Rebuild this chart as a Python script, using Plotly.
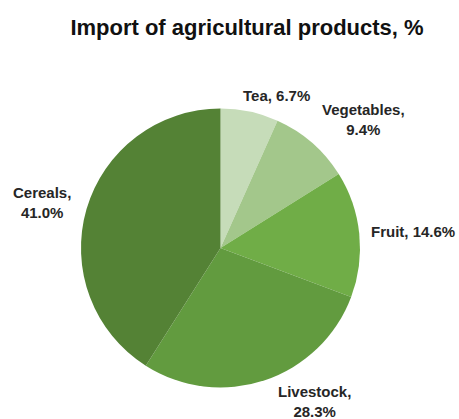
import plotly.graph_objects as go

categories = ["Tea", "Vegetables", "Fruit", "Livestock", "Cereals"]
shares = [6.7, 9.4, 14.6, 28.3, 41.0]
# labels that Excel wrapped onto two lines
wrapped = {"Vegetables", "Livestock", "Cereals"}

COLORS = ["#c6dcb9", "#a3c78b", "#70ad47", "#629b3f", "#548235"]
W, H = 459, 419

# label centres in pixels (Excel "best fit" placement)
label_pos = {
    "Tea": (276, 96),
    "Vegetables": (363, 120),
    "Fruit": (413, 231),
    "Livestock": (314, 401),
    "Cereals": (42, 202),
}

fig = go.Figure(go.Pie(
    labels=categories,
    values=shares,
    textinfo="none",
    marker=dict(colors=COLORS, line=dict(width=0)),
    sort=False,
    direction="clockwise",
    rotation=0,
    domain=dict(x=[81 / W, 360 / W], y=[1 - 387.5 / H, 1 - 108.5 / H]),
    showlegend=False,
    hoverinfo="label+percent",
))

annotations = []
for cat, val in zip(categories, shares):
    sep = ",<br>" if cat in wrapped else ", "
    px_x, px_y = label_pos[cat]
    annotations.append(dict(
        text=f"<b>{cat}{sep}{val:.1f}%</b>",
        x=px_x / W, y=1 - px_y / H,
        xref="paper", yref="paper",
        xanchor="center", yanchor="middle",
        showarrow=False,
        align="center",
        font=dict(family="Arial, Liberation Sans", size=15, color="#262626"),
    ))

fig.update_layout(
    width=W,
    height=H,
    margin=dict(l=0, r=0, t=0, b=0),
    paper_bgcolor="white",
    annotations=annotations,
    title=dict(
        text="<b>Import of agricultural products, %</b>",
        x=247 / W, xanchor="center",
        y=1 - 27 / H, yanchor="middle",
        font=dict(family="Arial, Liberation Sans", size=22, color="#111111"),
    ),
)

# the default page keeps the browser's 8px body margin; drop it so the
# figure sits flush in the 459x419 window
fig.write_html(
    "out.html",
    config={"displayModeBar": False},
    post_script="document.body.style.margin = '0';",
)
